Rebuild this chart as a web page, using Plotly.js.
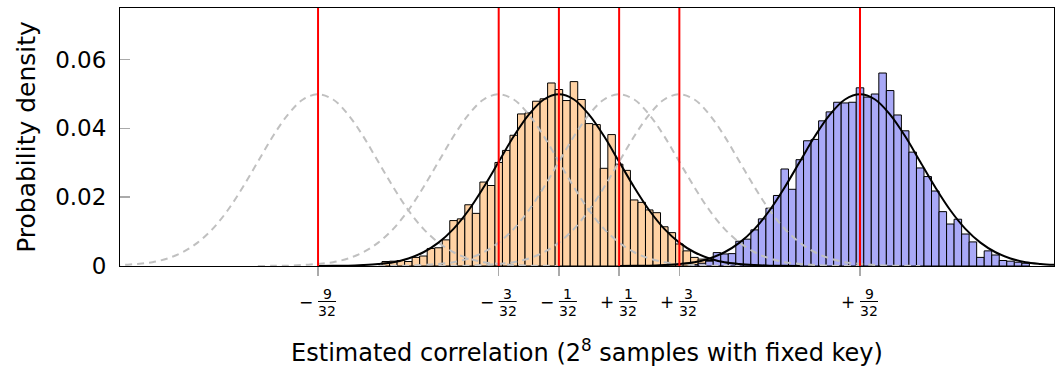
<!DOCTYPE html>
<html>
<head>
<meta charset="utf-8">
<script src="https://cdn.plot.ly/plotly-3.0.1.min.js"></script>
<style>html,body{margin:0;padding:0;background:#fff;}#chart{width:1056px;height:367px;}</style>
</head>
<body>
<div id="chart"></div>
<script>
// ---- data ----
const binWidth = 1 / 128;

const orangeFirstBin = -27;
const orangeValues = [
  0.0013, 0.0014, 0.0016, 0.0013, 0.0025, 0.0029, 0.0051, 0.0053, 0.0076, 0.0132,
  0.0137, 0.0178, 0.0153, 0.0244, 0.0234, 0.0301, 0.0336, 0.0380, 0.0442, 0.0445,
  0.0479, 0.0486, 0.0532, 0.0513, 0.0481, 0.0536, 0.0484, 0.0414, 0.0411, 0.0284,
  0.0382, 0.0296, 0.0278, 0.0192, 0.0185, 0.0163, 0.0155, 0.0114, 0.0097, 0.0064,
  0.0044, 0.0025, 0.0020, 0.0016, 0.0012, 0.0008, 0.0005
];

const blueFirstBin = 14;
const blueValues = [
  0.0004, 0.0008, 0.0014, 0.0039, 0.0035, 0.0036, 0.0072, 0.0078, 0.0105, 0.0137,
  0.0168, 0.0205, 0.0282, 0.0223, 0.0309, 0.0364, 0.0368, 0.0422, 0.0448, 0.0476,
  0.0474, 0.0476, 0.0518, 0.0491, 0.0500, 0.0561, 0.0510, 0.0439, 0.0393, 0.0331,
  0.0285, 0.0260, 0.0218, 0.0158, 0.0122, 0.0136, 0.0093, 0.0070, 0.0025, 0.0044,
  0.0032, 0.0016, 0.0014, 0.0011, 0.0008
];

// x tick labels: sign * numerator / denominator
const fractionSigns = [-1, -1, -1, 1, 1, 1];
const fractionNumerators = [9, 3, 1, 1, 3, 9];
const fractionDenominator = 32;

// curve centres (in 1/32 units)
const grayCurveCenters = [-9, -3, 1, 3];
const blackCurveCenters = [-1, 9];

// common curve profile: offsets in 1/64 units
const curveOffsets = [-16,-15,-14,-13,-12,-11,-10,-9,-8,-7,-6,-5,-4,-3,-2,-1,0,1,2,3,4,5,6,7,8,9,10,11,12,13,14,15,16];
const curveProfile = [
  0.00002, 0.00005, 0.0001, 0.0003, 0.0006, 0.0011, 0.0022, 0.0040, 0.0068, 0.0108, 0.0162,
  0.0229, 0.0303, 0.0377, 0.0440, 0.0484, 0.0499, 0.0484, 0.0440, 0.0377, 0.0303, 0.0229,
  0.0162, 0.0108, 0.0068, 0.0040, 0.0022, 0.0011, 0.0006, 0.0003, 0.0001, 0.00005, 0.00002
];

const yTickVals = [0, 0.02, 0.04, 0.06];
const yTickText = ['0', '0.02', '0.04', '0.06'];

// ---- build ----
const FONT = 'DejaVu Sans';
const tickVals = fractionNumerators.map((n, i) => fractionSigns[i] * n / fractionDenominator);

function curveTrace(c, color, dash) {
  return {
    type: 'scatter', mode: 'lines',
    x: curveOffsets.map(o => c / fractionDenominator + o / 64),
    y: curveProfile,
    line: {color: color, width: 2, dash: dash, shape: 'spline', smoothing: 1},
    hoverinfo: 'skip', showlegend: false
  };
}

const traces = [
  {type: 'bar', x0: orangeFirstBin * binWidth, dx: binWidth, y: orangeValues, width: binWidth,
   marker: {color: '#ffd2a4', line: {color: '#000', width: 1}}, showlegend: false},
  {type: 'bar', x0: blueFirstBin * binWidth, dx: binWidth, y: blueValues, width: binWidth,
   marker: {color: '#a9a9f7', line: {color: '#000', width: 1}}, showlegend: false}
];
grayCurveCenters.forEach(c => traces.push(curveTrace(c, '#c0c0c0', '7px,5px')));
blackCurveCenters.forEach(c => traces.push(curveTrace(c, '#000', 'solid')));

const shapes = [];
const annotations = [];
tickVals.forEach((v, i) => {
  shapes.push({type: 'line', xref: 'x', yref: 'paper', x0: v, x1: v, y0: 0, y1: 1,
               line: {color: '#ff0000', width: 2}});
  shapes.push({type: 'line', xref: 'x', xsizemode: 'pixel', xanchor: v, x0: 0, x1: 18,
               yref: 'paper', ysizemode: 'pixel', yanchor: 0, y0: -35.5, y1: -35.5,
               line: {color: '#000', width: 1}});
  annotations.push({xref: 'x', yref: 'paper', x: v, y: 0, xanchor: 'center', yanchor: 'middle',
    xshift: 9, yshift: -27.5, text: String(fractionNumerators[i]), showarrow: false,
    font: {family: FONT, size: 14, color: '#000'}});
  annotations.push({xref: 'x', yref: 'paper', x: v, y: 0, xanchor: 'center', yanchor: 'middle',
    xshift: 9, yshift: -44.5, text: String(fractionDenominator), showarrow: false,
    font: {family: FONT, size: 14, color: '#000'}});
  annotations.push({xref: 'x', yref: 'paper', x: v, y: 0, xanchor: 'center', yanchor: 'middle',
    xshift: -12, yshift: -35.5, text: fractionSigns[i] < 0 ? '\u2212' : '+', showarrow: false,
    font: {family: FONT, size: 17, color: '#000'}});
});

const layout = {
  width: 1056, height: 367,
  margin: {l: 120, r: 2, t: 8, b: 101},
  paper_bgcolor: '#fff', plot_bgcolor: '#fff',
  font: {family: FONT, color: '#000'},
  barmode: 'overlay',
  showlegend: false,
  xaxis: {
    range: [-0.4868, 0.4826], tickvals: tickVals, showticklabels: false,
    ticks: 'outside', ticklen: 9, tickwidth: 1.5, tickcolor: '#aaaaaa',
    showline: true, linecolor: '#000', linewidth: 1, mirror: true,
    showgrid: false, zeroline: false,
    title: {text: 'Estimated correlation (2<sup>8</sup> samples with fixed key)',
            font: {family: FONT, size: 24, color: '#000'}, standoff: 69}
  },
  yaxis: {
    range: [0, 0.075], tickvals: yTickVals, ticktext: yTickText,
    ticks: 'inside', ticklen: 10, tickwidth: 1.5, tickcolor: '#aaaaaa',
    tickfont: {family: FONT, size: 23, color: '#000'}, ticklabelstandoff: 8,
    showline: true, linecolor: '#000', linewidth: 1, mirror: true,
    showgrid: false, zeroline: false,
    title: {text: 'Probability density', font: {family: FONT, size: 25, color: '#000'}, standoff: 12}
  },
  shapes: shapes,
  annotations: annotations
};

Plotly.newPlot('chart', traces, layout, {displayModeBar: false, staticPlot: true});
</script>
</body>
</html>
